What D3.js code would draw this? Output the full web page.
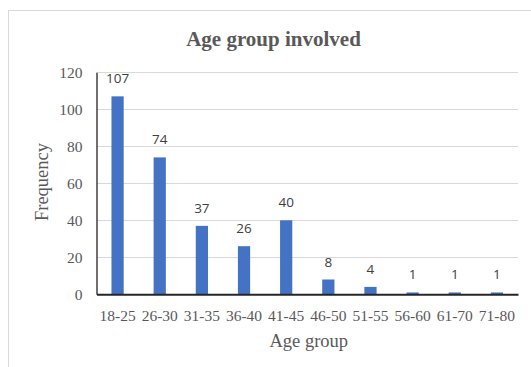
<!DOCTYPE html>
<html>
<head>
<meta charset="utf-8">
<script src="https://cdn.jsdelivr.net/npm/d3@7"></script>
<style>
  html, body { margin: 0; padding: 0; background: #fff; }
  svg { display: block; }
</style>
</head>
<body>
<svg id="chart" width="531" height="367"></svg>
<script>
// Frequency of participants by age group
const categories = ["18-25", "26-30", "31-35", "36-40", "41-45", "46-50", "51-55", "56-60", "61-70", "71-80"];
const frequencies = [107, 74, 37, 26, 40, 8, 4, 1, 1, 1];
const yTicks = [0, 20, 40, 60, 80, 100, 120];

const svg = d3.select("#chart");
const W = 531, H = 367;
const plotLeft = 96.5, plotRight = 518, plotTop = 72.3, y0 = 294.3;

// Chart frame
svg.append("rect")
  .attr("x", 8.5).attr("y", 10.5)
  .attr("width", W).attr("height", H)
  .attr("fill", "#fff").attr("stroke", "#d9d9d9").attr("stroke-width", 1);

const x = d3.scaleBand().domain(categories).range([plotLeft, plotRight])
  .paddingInner(0.71).paddingOuter(0.355);
const y = d3.scaleLinear().domain([0, 120]).range([y0, plotTop]);

// Gridlines
svg.append("g").selectAll("line").data(yTicks.filter(d => d > 0)).join("line")
  .attr("x1", plotLeft).attr("x2", plotRight)
  .attr("y1", d => Math.round(y(d)) + 0.5).attr("y2", d => Math.round(y(d)) + 0.5)
  .attr("stroke", "#d9d9d9").attr("stroke-width", 1);

// Bars
svg.append("g").selectAll("rect").data(frequencies).join("rect")
  .attr("x", (d, i) => x(categories[i]))
  .attr("y", d => y(d))
  .attr("width", x.bandwidth())
  .attr("height", d => y0 - y(d))
  .attr("fill", "#4472c4");

// Value labels
svg.append("g").selectAll("text").data(frequencies).join("text")
  .attr("x", (d, i) => x(categories[i]) + x.bandwidth() / 2)
  .attr("y", d => y(d) - 13)
  .attr("text-anchor", "middle")
  .attr("font-family", "'Open Sans', 'Liberation Sans', sans-serif")
  .attr("font-size", 13.5)
  .attr("fill", "#404040")
  .text(d => d);

// Axes
const yAxis = d3.axisLeft(y).tickValues(yTicks).tickSize(0).tickPadding(14);
const gy = svg.append("g").attr("transform", `translate(${plotLeft},0)`).call(yAxis);
gy.select(".domain").attr("stroke", "#404040").attr("stroke-width", 1.5);
gy.selectAll("text")
  .attr("font-family", "'Liberation Serif', serif").attr("font-size", 15.5).attr("fill", "#595959");

const xAxis = d3.axisBottom(x).tickSize(0).tickPadding(15.5);
const gx = svg.append("g").attr("transform", `translate(0,${y0})`).call(xAxis);
gx.select(".domain").attr("stroke", "#262626").attr("stroke-width", 2);
gx.selectAll("text")
  .attr("font-family", "'Liberation Serif', serif").attr("font-size", 15.5).attr("fill", "#595959");

// Titles
svg.append("text")
  .attr("x", 273.5).attr("y", 45.7)
  .attr("text-anchor", "middle")
  .attr("font-family", "'Liberation Serif', serif").attr("font-weight", "bold")
  .attr("font-size", 21).attr("fill", "#595959")
  .text("Age group involved");

svg.append("text")
  .attr("x", (plotLeft + plotRight) / 2 + 1.5).attr("y", 346.7)
  .attr("text-anchor", "middle")
  .attr("font-family", "'Liberation Serif', serif")
  .attr("font-size", 18.5).attr("fill", "#595959")
  .text("Age group");

svg.append("text")
  .attr("transform", "translate(48,182) rotate(-90)")
  .attr("text-anchor", "middle")
  .attr("font-family", "'Liberation Serif', serif")
  .attr("font-size", 18.5).attr("fill", "#595959")
  .text("Frequency");
</script>
</body>
</html>
